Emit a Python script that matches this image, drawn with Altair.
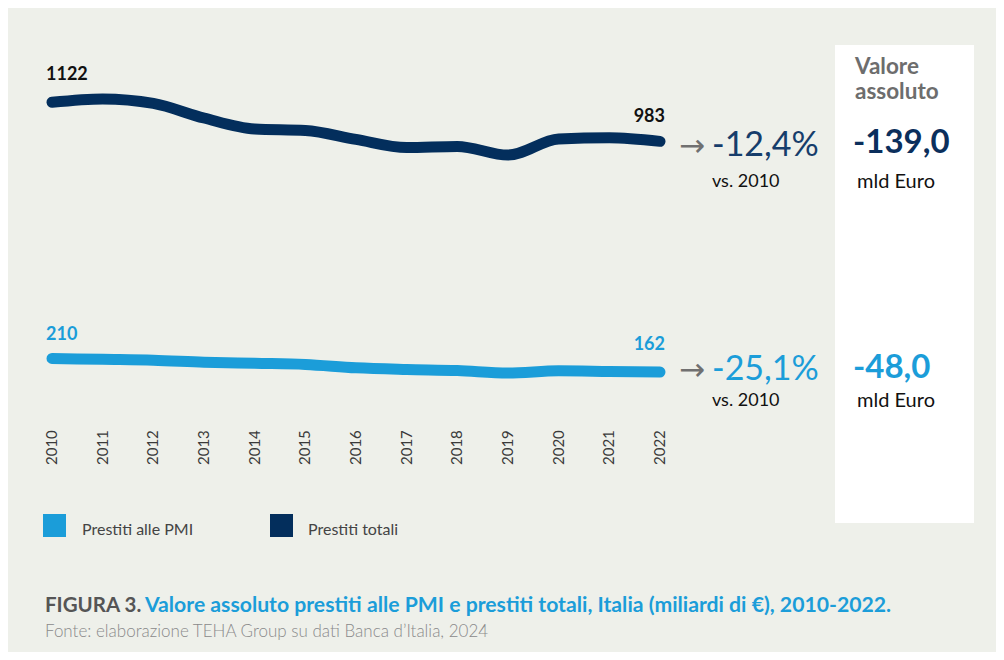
import altair as alt
import pandas as pd

# ---- data ----
years = [2010, 2011, 2012, 2013, 2014, 2015, 2016, 2017, 2018, 2019, 2020, 2021, 2022]
prestiti_totali = [1122, 1134, 1118, 1066, 1027, 1022, 990, 961, 965, 934, 991, 996, 983]
prestiti_pmi = [210, 207, 204, 197, 193, 189, 177, 171, 167, 158, 166, 164, 162]
series_names = ["Prestiti alle PMI", "Prestiti totali"]
series_colors = ["#1b9dd9", "#032e5c"]

pct_totali = "-12,4%"
pct_pmi = "-25,1%"
abs_totali = "-139,0"
abs_pmi = "-48,0"
vs_label = "vs. 2010"
unit_label = "mld Euro"
box_title = ["Valore", "assoluto"]
fig_label = "FIGURA 3."
fig_title = "Valore assoluto prestiti alle PMI e prestiti totali, Italia (miliardi di €), 2010-2022."
source = "Fonte: elaborazione TEHA Group su dati Banca d\u2019Italia, 2024"

FONT = "Lato"
BG = "#eef0ea"
NAVY = "#032e5c"
BLUE = "#1b9dd9"

df_tot = pd.DataFrame({"year": years, "value": prestiti_totali, "serie": series_names[1]})
df_pmi = pd.DataFrame({"year": years, "value": prestiti_pmi, "serie": series_names[0]})
df = pd.concat([df_pmi, df_tot], ignore_index=True)

xs = alt.Scale(domain=[2010, 2022], range=[44, 652])
ys = alt.Scale(domain=[0, 1122], range=[409.5, 94.3])
X = alt.X("year:Q", scale=xs, axis=None)
Y = alt.Y("value:Q", scale=ys, axis=None)


def txt(text, x, y, size, color, weight="normal", align="left", font=FONT, angle=0):
    return alt.Chart(pd.DataFrame({"t": [text]})).mark_text(
        align=align, baseline="middle", fontSize=size, color=color,
        fontWeight=weight, font=font, angle=angle
    ).encode(x=alt.value(x), y=alt.value(y), text="t:N")


white_box = alt.Chart(pd.DataFrame({"a": [0]})).mark_rect(color="white").encode(
    x=alt.value(827), x2=alt.value(966), y=alt.value(37), y2=alt.value(515)
)

lines = alt.Chart(df).mark_line(
    strokeWidth=11, strokeCap="round", strokeJoin="round", interpolate="monotone"
).encode(
    x=X, y=Y,
    color=alt.Color("serie:N", scale=alt.Scale(domain=series_names, range=series_colors), legend=None),
    detail="serie:N",
)

def end_label(d, yr, color, align, dx, dy):
    return alt.Chart(d).transform_filter(alt.datum.year == yr).mark_text(
        align=align, baseline="middle", fontSize=18, fontWeight="bold", font=FONT,
        color=color, dx=dx, dy=dy
    ).encode(x=X, y=Y, text="value:Q")

labels = [
    end_label(df_tot, 2010, "#111111", "left", -6, -27),
    end_label(df_tot, 2022, "#111111", "right", 5, -24),
    end_label(df_pmi, 2010, BLUE, "left", -6, -24),
    end_label(df_pmi, 2022, BLUE, "right", 5, -27),
]

year_labels = alt.Chart(pd.DataFrame({"year": years})).mark_text(
    align="left", baseline="middle", angle=270, fontSize=15, font=FONT,
    fontWeight="normal", color="#3a3a3a"
).encode(x=X, y=alt.value(457), text="year:N")

annots = [
    txt("\u2192", 684, 139, 31, "#707070", font="DejaVu Sans", align="center"),
    txt(pct_totali, 704, 138, 34, "#163d6b"),
    txt(vs_label, 704, 174, 18, "#111111"),
    txt("\u2192", 684, 363, 31, "#707070", font="DejaVu Sans", align="center"),
    txt(pct_pmi, 704, 362, 34, BLUE),
    txt(vs_label, 704, 393, 18, "#111111"),
    txt(box_title[0], 847, 59, 22.5, "#6d6d6d", weight="bold"),
    txt(box_title[1], 847, 84, 22.5, "#6d6d6d", weight="bold"),
    txt(abs_totali, 845, 135, 33, "#0b2f5c", weight="bold"),
    txt(unit_label, 849, 174, 20, "#111111"),
    txt(abs_pmi, 845, 360, 33, BLUE, weight="bold"),
    txt(unit_label, 849, 393, 20, "#111111"),
    txt(series_names[0], 74, 522, 16, "#444444"),
    txt(series_names[1], 300, 522, 16, "#444444"),
    txt(fig_label, 37, 598, 20.5, "#555555", weight="bold"),
    txt(fig_title, 137, 598, 21.2, BLUE, weight="bold"),
    txt(source, 37, 624, 17, "#8a8a8a", weight=300),
]

legend_sq = [
    alt.Chart(pd.DataFrame({"a": [0]})).mark_square(size=529, color=c, opacity=1).encode(
        x=alt.value(px), y=alt.value(517.5)
    )
    for c, px in zip(series_colors, [46.5, 273.5])
]

chart = alt.layer(
    white_box, lines, *labels, year_labels, *annots, *legend_sq
).properties(
    width=988, height=644, background=BG, padding=0
).configure_view(strokeWidth=0, fill=BG)

chart.save("out.html", embed_options={"renderer": "svg", "actions": False})
